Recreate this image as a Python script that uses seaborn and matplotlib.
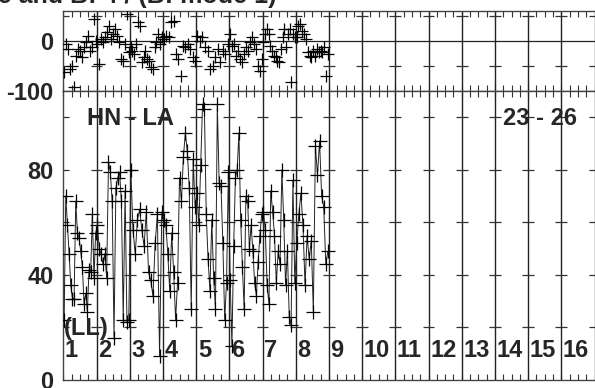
import numpy as np
import pandas as pd
import matplotlib
matplotlib.use("Agg")
import matplotlib.pyplot as plt
import seaborn as sns

sns.set_theme(style="white")
plt.rcParams['font.family'] = ['Liberation Sans', 'DejaVu Sans']
plt.rcParams['font.weight'] = 'bold'

title_text = "Phase and B: 4 / (B: mode 1)"
station_label = "HN - LA"
period_label = "23 - 26"
mode_label = "(LL)"
day_labels = [str(i) for i in range(1, 17)]

# bottom panel values, one list per day
bottom_by_day = [
    [23, 70, 59, 48, 36, 31, 31, 68, 56, 54, 49, 43, 29, 33, 26, 42, 41, 63, 39, 56],
    [59, 50, 48, 44, 48, 39, 83, 79, 68, 16, 73, 77, 79, 68, 23, 72, 22, 23],
    [80, 57, 48, 61, 65, 57, 51, 64, 41, 38, 32, 52, 63, 9, 64],
    [61, 59, 48, 34, 56, 41, 23, 37, 77, 68, 85, 94, 87, 73, 27, 84, 66],
    [71, 59, 82, 105, 103, 63, 46, 34, 61, 39, 27, 105, 75, 74, 52, 23, 37, 79],
    [38, 13, 51, 77, 80, 94, 61, 43, 27, 70, 68, 50, 59, 49, 37, 32, 45, 55, 63],
    [64, 57, 36, 29, 72, 64, 55, 37, 49, 44, 80, 61, 36, 49, 24, 21, 76, 37],
    [52, 63, 71, 59, 36, 55, 46, 53, 26, 89, 78, 91, 70, 66, 44, 49],
]

# top panel values, one list per day
top_by_day = [
    [-63, -7, -17, -57, -50, -93, -30, -17, -20, -33, -13, -3, 10, -20, -13, 43, 0],
    [-7, -47, 3, -3, 7, 17, 30, 3, 13, 23, 10, -3, -37, -40, -7, 53, -23],
    [-13, -20, -27, -7, 37, 30, -43, -33, -20, -37, -40, -53, -57, -13, -3, 13, -7, 7],
    [3, 10, 7, 37, 40, -27, -37, -70, -10, -13, -7, -17, -33, -40],
    [10, 0, 7, -13, -20, -57, -50, -33, -17, -43, -20, -27, -7],
    [13, -10, -7, -30, -20, -37, -43, -27, -13, -20, -3, 7, -7, -17, -50, -60, -37],
    [-3, 13, 23, 13, -10, -20, -30, -33, -40, -43, -17, 7, 23, -13, 13, 23, -83, 13, 7],
    [7, 30, 33, 20, 13, 3, -23, -30, -33, -20, -30, -17, -23, -20, -23, -13, -70, -27],
]

def to_frame(by_day):
    rows = []
    for d, vals in enumerate(by_day):
        n = len(vals)
        for j, v in enumerate(vals):
            rows.append((d + (j + 0.5) / n, v))
    return pd.DataFrame(rows, columns=["t", "v"])

df_b = to_frame(bottom_by_day)
df_t = to_frame(top_by_day)

FS = 17
W, H = 595, 388
fig = plt.figure(figsize=(W / 100, H / 100), dpi=100)
left = 63.3 / W
right = 594.5 / W
ax1 = fig.add_axes([left, 1 - 91 / H, right - left, (91 - 10.7) / H])
ax2 = fig.add_axes([left, 1 - 380 / H, right - left, (380 - 91) / H])

sns.scatterplot(data=df_t, x="t", y="v", ax=ax1, marker="+", s=85,
                color="black", linewidth=0.9, legend=False, zorder=3)
sns.lineplot(data=df_b, x="t", y="v", ax=ax2, color="#222222", lw=0.7,
             marker="+", markersize=9.5, markeredgewidth=0.9,
             markeredgecolor="black", estimator=None, sort=False, zorder=3)

ax1.set_xlim(0, 16)
ax2.set_xlim(0, 16)
ax1.set_ylim(-100, 60)
ax2.set_ylim(0, 110)

for ax, marks in ((ax1, [-50, 50]), (ax2, [20, 40, 60, 80, 100])):
    for k in range(1, 16):
        ax.axvline(k, color="#222222", lw=1.0, zorder=1)
    for y in marks:
        ax.hlines([y] * 17, np.arange(17) - 0.18, np.arange(17) + 0.18,
                  color="#333333", lw=0.9, zorder=1)
    ax.set_xticks(np.arange(0, 16.01, 0.25))
    ax.tick_params(axis="x", which="major", direction="in", length=4,
                   top=True, bottom=True, labelbottom=False,
                   color="#333333", width=0.8)
    ax.tick_params(axis="y", length=0, pad=7, labelsize=FS)
    for s in ax.spines.values():
        s.set_color("#444444")
        s.set_linewidth(1)
    ax.set_xlabel("")
    ax.set_ylabel("")

ax1.axhline(0, color="#222222", lw=0.9, zorder=1)
ax1.set_yticks([-100, 0])
ax1.set_yticklabels(["-100", "0"], fontweight="bold", fontsize=FS)
ax2.set_yticks([0, 40, 80])
ax2.set_yticklabels(["0", "40", "80"], fontweight="bold", fontsize=FS)

ax2.text(0.71, 97, station_label, fontsize=FS, fontweight="bold",
         ha="left", va="baseline", zorder=4)
ax2.text(13.23, 97, period_label, fontsize=FS, fontweight="bold",
         ha="left", va="baseline", zorder=4)
ax2.text(0.03, 17, mode_label, fontsize=FS, fontweight="bold",
         ha="left", va="baseline", zorder=4)
for i, lab in enumerate(day_labels):
    ax2.text(i + 0.05, 8.7, lab, fontsize=FS, fontweight="bold",
             ha="left", va="baseline", zorder=4)

fig.text(277 / W, 1 - 3 / H, title_text, fontsize=18, fontweight="bold",
         ha="right", va="baseline")

fig.savefig("out.png", dpi=100)
